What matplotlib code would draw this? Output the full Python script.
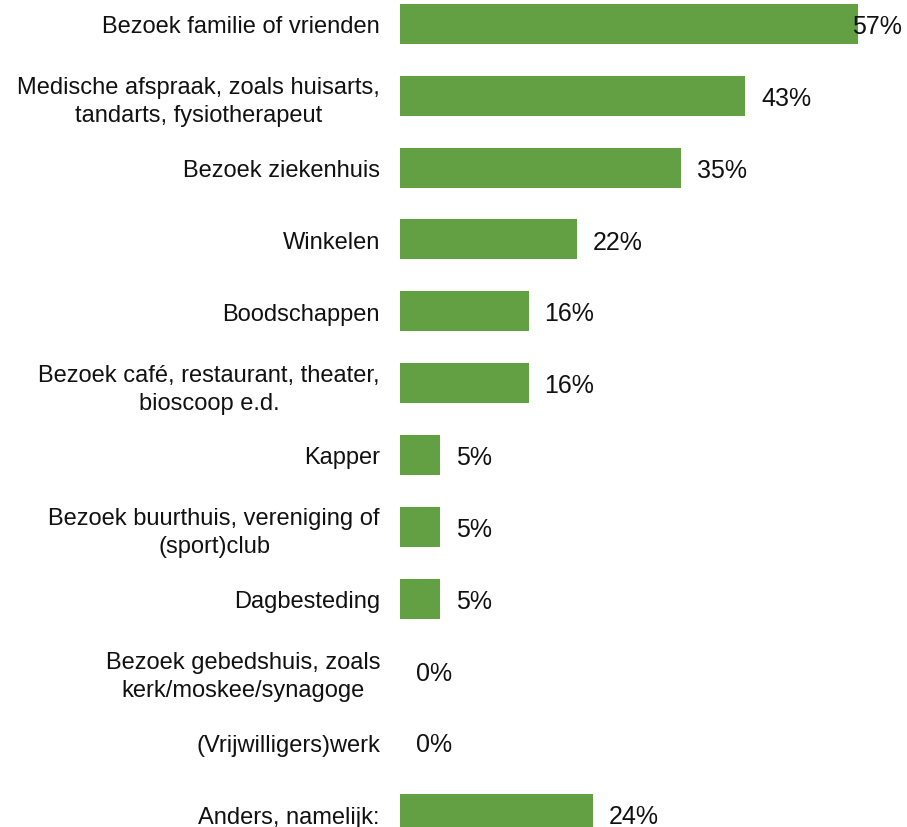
import matplotlib

matplotlib.use("Agg")
import matplotlib.pyplot as plt
import numpy as np

# Percentage of respondents per activity
CATEGORIES = [
    "Bezoek familie of vrienden",
    "Medische afspraak, zoals huisarts,\ntandarts, fysiotherapeut",
    "Bezoek ziekenhuis",
    "Winkelen",
    "Boodschappen",
    "Bezoek café, restaurant, theater,\nbioscoop e.d.",
    "Kapper",
    "Bezoek buurthuis, vereniging of\n(sport)club",
    "Dagbesteding",
    "Bezoek gebedshuis, zoals\nkerk/moskee/synagoge",
    "(Vrijwilligers)werk",
    "Anders, namelijk:",
]
VALUES = [57, 43, 35, 22, 16, 16, 5, 5, 5, 0, 0, 24]

BAR_COLOR = "#63A043"

plt.rcParams["font.family"] = ["Liberation Sans", "DejaVu Sans"]


def main():
    fig = plt.figure(figsize=(9.07, 8.28), dpi=100)
    ax = fig.add_axes([400 / 907, 0, 482 / 907, 1])

    y = np.arange(len(CATEGORIES))
    ax.barh(y, VALUES, height=0.557, color=BAR_COLOR)

    ax.set_xlim(0, 60)
    ax.set_ylim(11.18, -0.348)

    for yi, v in zip(y, VALUES):
        # the largest label is pulled back so it stays inside the figure
        ax.text(min(v + 2.0, 56.3), yi + 0.03, f"{v}%", ha="left", va="center",
                fontsize=18, color="#111111")

    ax.set_yticks(y)
    ax.set_yticklabels(CATEGORIES, fontsize=17, multialignment="center",
                       linespacing=1.35, color="#111111")
    ax.tick_params(axis="y", length=0, pad=14.4)
    ax.set_xticks([])
    for s in ax.spines.values():
        s.set_visible(False)

    fig.savefig("out.png", dpi=100)


if __name__ == "__main__":
    main()
